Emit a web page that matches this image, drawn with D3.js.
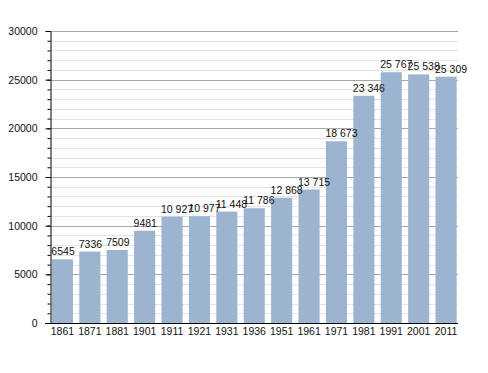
<!DOCTYPE html>
<html><head><meta charset="utf-8">
<script src="https://cdn.jsdelivr.net/npm/d3@7"></script>
<style>body{margin:0;background:#fff}svg{display:block}text{font-family:"Liberation Sans",Arial,sans-serif;fill:#111}</style>
</head><body><svg id="c" width="488" height="373"></svg>
<script>
const years = ["1861","1871","1881","1901","1911","1921","1931","1936","1951","1961","1971","1981","1991","2001","2011"];
const population = [6545,7336,7509,9481,10927,10977,11448,11786,12868,13715,18673,23346,25767,25538,25309];
const labels = ["6545","7336","7509","9481","10 927","10 977","11 448","11 786","12 868","13 715","18 673","23 346","25 767","25 538","25 309"];
const majorTicks = [0,5000,10000,15000,20000,25000,30000];
const minorTicks = d3.range(0,30001,1000);

const svg = d3.select("#c");
const L=50.5, R=458, T=31, B=323;
const x = d3.scaleBand().domain(years).range([L,R]).paddingInner(0.23).paddingOuter(0.05);
const y = d3.scaleLinear().domain([0,30000]).range([B,T]);

// minor gridlines
svg.append("g").selectAll("line").data(minorTicks.filter(v=>v%5000!==0)).join("line")
  .attr("x1",L).attr("x2",R).attr("y1",d=>Math.round(y(d))+0.5).attr("y2",d=>Math.round(y(d))+0.5)
  .attr("stroke","#e4e4e4").attr("stroke-width",1);
// major gridlines
svg.append("g").selectAll("line").data(majorTicks.filter(v=>v>0)).join("line")
  .attr("x1",L).attr("x2",R).attr("y1",d=>Math.round(y(d))+0.5).attr("y2",d=>Math.round(y(d))+0.5)
  .attr("stroke","#a8a8a8").attr("stroke-width",1);

// bars
svg.append("g").selectAll("rect").data(years).join("rect")
  .attr("x",d=>x(d)).attr("width",x.bandwidth())
  .attr("y",(d,i)=>y(population[i])).attr("height",(d,i)=>B-y(population[i]))
  .attr("fill","#9cb4d0");

// value labels
svg.append("g").selectAll("text").data(years).join("text")
  .attr("x",d=>x(d)-0.5).attr("y",(d,i)=>y(population[i])-4)
  .attr("font-size","10.5px").attr("text-anchor","start")
  .text((d,i)=>labels[i]);

// y axis
const yAxis = svg.append("g").attr("transform",`translate(${L},0)`);
yAxis.call(d3.axisLeft(y).tickValues(minorTicks).tickSize(3).tickFormat(""));
yAxis.call(g=>g.select(".domain").remove());
const yMaj = svg.append("g").attr("transform",`translate(${L},0)`)
  .call(d3.axisLeft(y).tickValues(majorTicks).tickSize(5).tickPadding(8).tickFormat(d3.format("d")).tickSizeOuter(0));
yMaj.selectAll("text").attr("font-size","10.5px").attr("font-family","Liberation Sans, Arial, sans-serif").attr("fill","#111");
svg.selectAll(".tick line").attr("stroke","#000");
yMaj.select(".domain").attr("stroke","#000");

// x axis
const xAxis = svg.append("g").attr("transform",`translate(0,${B})`)
  .call(d3.axisBottom(x).tickSize(0).tickPadding(5).tickSizeOuter(0));
xAxis.select(".domain").attr("d",`M45,0.5H${R}`).attr("stroke","#000");
xAxis.selectAll("text").attr("font-size","10.5px").attr("font-family","Liberation Sans, Arial, sans-serif").attr("fill","#111");
</script></body></html>
